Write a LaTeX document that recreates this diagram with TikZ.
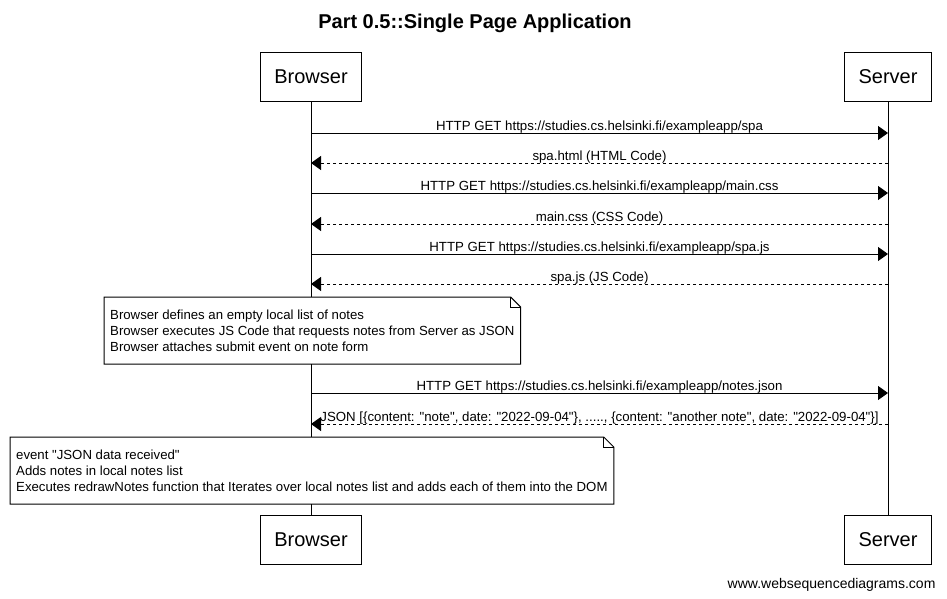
\documentclass[tikz,border=0pt]{standalone}
\usepackage{fontspec}
\setmainfont{Liberation Sans}
\usetikzlibrary{arrows.meta, positioning, calc}

\tikzset{
  actor/.style={draw, line width=1pt, minimum height=49pt, inner xsep=14pt,
                font=\fontsize{20}{24}\selectfont},
  lifeline/.style={line width=1pt},
  call/.style={line width=1pt, -{Triangle[length=10pt, width=14pt]}},
  reply/.style={call, dash pattern=on 3pt off 3pt},
  msglabel/.style={above, inner sep=0pt, yshift=-1pt, font=\fontsize{13.25}{15}\selectfont},
  notetext/.style={anchor=north west, align=left, fill=white, inner xsep=6pt, inner ysep=12.5pt,
                   font=\fontsize{13.2}{16}\selectfont},
  notebox/.style={draw, line width=1pt},
}
\newcommand{\dq}{\textquotedbl}

\begin{document}
\begin{tikzpicture}[x=1pt, y=-1pt]
  \useasboundingbox (0,0) rectangle (947,598);

  \node[font=\fontsize{20}{24}\selectfont\bfseries] (title) at (475,23)
        {Part 0.5::Single Page Application};

  % participants, top and bottom
  \node[actor] (browser) at (311,77) {Browser};
  \node[actor] (server) at (888,77) {Server};
  \node[actor] (browserend) at (311,540) {Browser};
  \node[actor] (serverend) at (888,540) {Server};

  \draw[lifeline] (browser.south) -- (browserend.north);
  \draw[lifeline] (server.south) -- (serverend.north);

  % points on the lifelines
  \foreach \i/\y in {1/133, 2/163, 3/193, 4/224, 5/254, 6/284, 7/393, 8/424} {
    \coordinate (b\i) at (311,\y);
    \coordinate (s\i) at (888,\y);
  }

  \draw[call] (b1) -- node[msglabel] {HTTP GET https://studies.cs.helsinki.fi/exampleapp/spa} (s1);
  \draw[reply] (s2) -- node[msglabel] {spa.html (HTML Code)} (b2);
  \draw[call] (b3) -- node[msglabel] {HTTP GET https://studies.cs.helsinki.fi/exampleapp/main.css} (s3);
  \draw[reply] (s4) -- node[msglabel] {main.css (CSS Code)} (b4);
  \draw[call] (b5) -- node[msglabel] {HTTP GET https://studies.cs.helsinki.fi/exampleapp/spa.js} (s5);
  \draw[reply] (s6) -- node[msglabel] {spa.js (JS Code)} (b6);

  % note after loading the script
  \node[notetext] (parsenote) at (104,297) {Browser defines an empty local list of notes\\
        Browser executes JS Code that requests notes from Server as JSON\\
        Browser attaches submit event on note form};
  \draw[notebox] (parsenote.north west) -- ($(parsenote.north east)+(-10,0)$)
        -- ($(parsenote.north east)+(0,10)$) -- (parsenote.south east)
        -- (parsenote.south west) -- cycle;
  \draw[notebox] ($(parsenote.north east)+(-10,0)$) -- ($(parsenote.north east)+(-10,10)$)
        -- ($(parsenote.north east)+(0,10)$);

  \draw[call] (b7) -- node[msglabel] {HTTP GET https://studies.cs.helsinki.fi/exampleapp/notes.json} (s7);
  \draw[reply] (s8) -- node[msglabel]
        {JSON [\{content: \dq note\dq, date: \dq 2022-09-04\dq\}, ....., \{content: \dq another note\dq, date: \dq 2022-09-04\dq\}]} (b8);

  % note after the data came back
  \node[notetext] (drawnote) at (10,437) {event \dq JSON data received\dq\\
        Adds notes in local notes list\\
        Executes redrawNotes function that Iterates over local notes list and adds each of them into the DOM};
  \draw[notebox] (drawnote.north west) -- ($(drawnote.north east)+(-10,0)$)
        -- ($(drawnote.north east)+(0,10)$) -- (drawnote.south east)
        -- (drawnote.south west) -- cycle;
  \draw[notebox] ($(drawnote.north east)+(-10,0)$) -- ($(drawnote.north east)+(-10,10)$)
        -- ($(drawnote.north east)+(0,10)$);

  \node[anchor=east, font=\fontsize{14}{16}\selectfont] (footer) at (939,585) {www.websequencediagrams.com};
\end{tikzpicture}
\end{document}
